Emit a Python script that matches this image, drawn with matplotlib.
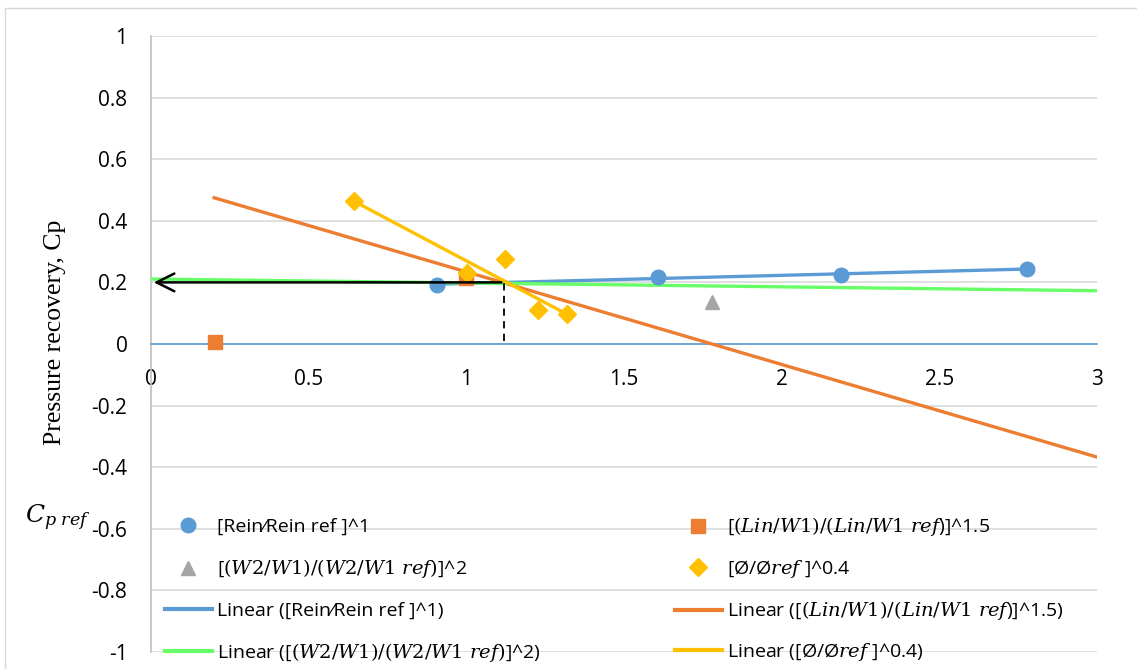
import numpy as np
import matplotlib.pyplot as plt
from matplotlib.lines import Line2D
from matplotlib.patches import Rectangle

plt.rcParams['font.family'] = ['Open Sans', 'DejaVu Sans']
plt.rcParams['mathtext.fontset'] = 'dejavuserif'

# Normalised parameter ratio (x) against measured pressure recovery (Cp)
rein_x = [0.907, 1.608, 2.188, 2.778]
rein_cp = [0.192, 0.218, 0.224, 0.244]

lin_x = [0.203, 1.00]
lin_cp = [0.006, 0.215]

w2_x = [1.779]
w2_cp = [0.137]

phi_x = [0.644, 1.002, 1.123, 1.227, 1.319]
phi_cp = [0.465, 0.231, 0.276, 0.110, 0.097]

# Trend lines whose fits include points outside the plotted window: (slope, intercept, x_from, x_to)
lin_trend = (-0.3007, 0.535, 0.2, 3.2)
w2_trend = (-0.0127, 0.211, 0.0, 3.0)

# Reference operating point
x_ref = 1.12
cp_ref = 0.2

blue = '#5B9BD5'
orange = '#ED7D31'
gray = '#A5A5A5'
yellow = '#FFC000'
green = '#66FF66'

W, H = 1137, 669
fig = plt.figure(figsize=(W / 100, H / 100), dpi=100)
ax = fig.add_axes([151 / W, 1 - 652 / H, (1097 - 151) / W, (652 - 36) / H])

# chart border
fig.patches.append(Rectangle((5 / W, -0.01), 1.02, 1 - 8 / H + 0.01, transform=fig.transFigure,
                             fill=False, edgecolor='#D9D9D9', linewidth=1))

ax.set_xlim(0, 3)
ax.set_ylim(-1, 1)
ax.set_xticks(np.arange(0, 3.01, 0.5))
ax.set_yticks(np.arange(-1, 1.01, 0.2))
ax.set_xticklabels(['0', '0.5', '1', '1.5', '2', '2.5', '3'])
ax.set_yticklabels(['-1', '-0.8', '-0.6', '-0.4', '-0.2', '0', '0.2', '0.4', '0.6', '0.8', '1'])
ax.grid(axis='y', color='#D9D9D9', linewidth=1.2)
ax.set_axisbelow(True)
for s in ['top', 'right']:
    ax.spines[s].set_visible(False)
ax.spines['left'].set_color('#BFBFBF')
ax.spines['left'].set_linewidth(1.2)
ax.spines['bottom'].set_position(('data', 0))
ax.spines['bottom'].set_color(blue)
ax.spines['bottom'].set_linewidth(1.2)
ax.tick_params(axis='both', length=0, labelsize=15, colors='black')
ax.tick_params(axis='y', pad=17)
ax.tick_params(axis='x', pad=18)

# trend lines
def fit_line(x, y):
    b, a = np.polyfit(x, y, 1)
    xx = np.array([min(x), max(x)])
    return xx, a + b * xx

xx, yy = fit_line(rein_x, rein_cp)
ax.plot(xx, yy, color=blue, lw=2.4, zorder=3)
xx = np.array(lin_trend[2:])
ax.plot(xx, lin_trend[1] + lin_trend[0] * xx, color=orange, lw=2.4, zorder=3)
xx = np.array(w2_trend[2:])
ax.plot(xx, w2_trend[1] + w2_trend[0] * xx, color=green, lw=2.4, zorder=3)
xx, yy = fit_line(phi_x, phi_cp)
ax.plot(xx, yy, color=yellow, lw=2.4, zorder=4)

# data points
ax.plot(rein_x, rein_cp, 'o', color=blue, ms=10.5, zorder=5)
ax.plot(lin_x, lin_cp, 's', color=orange, ms=10, zorder=5)
ax.plot(w2_x, w2_cp, '^', color=gray, ms=10, zorder=5)
ax.plot(phi_x, phi_cp, 'D', color=yellow, ms=9.5, zorder=6)

# reference point read-off
ax.annotate('', xy=(0, cp_ref), xytext=(x_ref, cp_ref),
            arrowprops=dict(arrowstyle='->', color='black', lw=1.8, mutation_scale=32), zorder=7)
ax.plot([x_ref, x_ref], [0.01, cp_ref], color='black', lw=1.3, ls=(0, (4, 3)), zorder=7)

fig.text(25 / W, 1 - 518 / H, r'$C_{p\ ref}$', fontsize=18, va='center', ha='left')
fig.text(55 / W, 1 - 332 / H, 'Pressure recovery, Cp', rotation=90, fontsize=18.5,
         family='Liberation Serif', va='center', ha='center')

h_rein = Line2D([], [], ls='none', marker='o', color=blue, ms=10.5)
h_lin = Line2D([], [], ls='none', marker='s', color=orange, ms=10)
h_w2 = Line2D([], [], ls='none', marker='^', color=gray, ms=10)
h_phi = Line2D([], [], ls='none', marker='D', color=yellow, ms=9.5)
t_rein = Line2D([], [], color=blue, lw=3)
t_lin = Line2D([], [], color=orange, lw=3)
t_w2 = Line2D([], [], color=green, lw=3)
t_phi = Line2D([], [], color=yellow, lw=3)

lab_rein = '[Rein\u2044Rein ref ]^1'
lab_lin = r'[$(Lin/W1)/(Lin/W1\ ref$)]^1.5'
lab_w2 = r'[$(W2/W1)/(W2/W1\ ref)$]^2'
lab_phi = r'[Ø/Ø$ref$ ]^0.4'

# legend laid out as a 2 x 4 grid, one entry per cell
entries = [
    (h_rein, lab_rein), (h_lin, lab_lin),
    (h_w2, lab_w2), (h_phi, lab_phi),
    (t_rein, 'Linear (' + lab_rein + ')'), (t_lin, 'Linear (' + lab_lin + ')'),
    (t_w2, 'Linear (' + lab_w2 + ')'), (t_phi, 'Linear (' + lab_phi + ')'),
]
col_x = [165, 675]
row_y = [527, 569, 611, 652]
for i, (h, lab) in enumerate(entries):
    fig.legend([h], [lab], frameon=False, fontsize=14, handlelength=2.4, handletextpad=0.25,
               borderpad=0, borderaxespad=0, loc='center left',
               bbox_to_anchor=(col_x[i % 2] / W, 1 - row_y[i // 2] / H),
               bbox_transform=fig.transFigure)

fig.savefig('out.png', dpi=100)
